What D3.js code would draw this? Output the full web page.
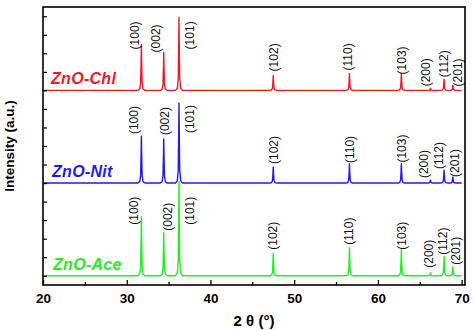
<!DOCTYPE html>
<html>
<head>
<meta charset="utf-8">
<script src="https://cdn.jsdelivr.net/npm/d3@7"></script>
<style>
  html, body { margin: 0; padding: 0; background: #fff; }
  svg { display: block; }
  text { font-family: Arial, "Liberation Sans", sans-serif; }
</style>
</head>
<body>
<svg id="chart" width="474" height="330"></svg>
<script>
// Reflection positions (2θ, degrees) and their Miller indices
const hkl = ["(100)", "(002)", "(101)", "(102)", "(110)", "(103)", "(200)", "(112)", "(201)"];
const twoTheta = [31.75, 34.42, 36.24, 47.5, 56.6, 62.8, 66.28, 67.9, 68.95];

// Samples, their vertical stacking offset (a.u.) and peak intensities above baseline (a.u.)
const samples = ["ZnO-Chl", "ZnO-Nit", "ZnO-Ace"];
const sampleOffset = [2000, 1000, 0];
const chlIntensity = [496, 410, 788, 162, 183, 183, 22, 119, 54];
const nitIntensity = [507, 475, 863, 173, 205, 210, 32, 140, 65];
const aceIntensity = [637, 464, 1014, 237, 302, 280, 32, 205, 97];
const intensities = [chlIntensity, nitIntensity, aceIntensity];

// Axis ticks
const xMajorTicks = [20, 30, 40, 50, 60, 70];
const xMinorTicks = [25, 35, 45, 55, 65];
const yTicks = d3.range(0, 2801, 200);
const scanRange = [20, 70];

// Styling
const colors = ["#ec1c24", "#1e1ee6", "#22ee22"];

// Profile used to draw one reflection: [Δ2θ, fraction of peak height]
const peakProfile = [[-0.42, 0], [-0.2, 0.03], [-0.09, 0.16], [-0.035, 0.6], [0, 1],
                     [0.035, 0.6], [0.09, 0.16], [0.2, 0.03], [0.42, 0]];

// Label placement relative to each peak apex, in pixels [dx, dy]
const labelShift = [
  [[-7, 5], [-8.5, 0], [11, 32], [0, -4], [-2, -3], [0, 1], [-4.5, -2], [0, -2], [4.5, 1]],
  [[-8, -2], [0.5, -4], [10.5, 30], [0, -3], [0, -1], [0, -1], [-6.5, -2], [-5, -1], [1.5, 0]],
  [[-7.5, 8], [3.5, -2], [10.5, 43], [-1, -4], [-1, -3], [0, 0], [-2, -5], [-1.5, -2], [3, -2]]
];
const sampleLabelPos = [[51, 84], [52, 177], [53, 270]];

const svg = d3.select("#chart");
const plot = { left: 43, right: 465, top: 7, bottom: 285 };

const x = d3.scaleLinear().domain([20, 70.4]).range([plot.left, plot.right]);
const y = d3.scaleLinear().domain([-100, 2900]).range([plot.bottom, plot.top]);

// Traces
const line = d3.line().x(d => x(d[0])).y(d => y(d[1]));
samples.forEach((name, s) => {
  const base = sampleOffset[s];
  const pts = [[scanRange[0], base]];
  twoTheta.forEach((c, i) => {
    peakProfile.forEach(([dx, f]) => pts.push([c + dx, base + f * intensities[s][i]]));
  });
  pts.push([scanRange[1], base]);
  pts.sort((a, b) => a[0] - b[0]);
  svg.append("path")
    .attr("d", line(pts))
    .attr("fill", "none")
    .attr("stroke", colors[s])
    .attr("stroke-width", 1.4)
    .attr("stroke-linejoin", "round");
});

// Peak labels
samples.forEach((name, s) => {
  const base = sampleOffset[s];
  twoTheta.forEach((c, i) => {
    const px = x(c) + labelShift[s][i][0];
    const py = y(base + intensities[s][i]) + labelShift[s][i][1];
    svg.append("text")
      .attr("transform", `translate(${px},${py}) rotate(-90)`)
      .attr("dy", "0.36em")
      .attr("font-size", 12)
      .attr("fill", "#111")
      .text(hkl[i]);
  });
});

// Sample names
samples.forEach((name, s) => {
  svg.append("text")
    .attr("x", sampleLabelPos[s][0])
    .attr("y", sampleLabelPos[s][1])
    .attr("font-size", 16)
    .attr("font-weight", "bold")
    .attr("font-style", "italic")
    .attr("letter-spacing", 0.3)
    .attr("fill", colors[s])
    .text(name);
});

// Bottom axis (ticks pointing inward)
const xAxis = svg.append("g")
  .attr("transform", `translate(0,${plot.bottom})`)
  .call(d3.axisBottom(x).tickValues(xMajorTicks).tickSizeInner(-5).tickSizeOuter(0).tickPadding(8));
xAxis.select(".domain").remove();
xAxis.selectAll("line").attr("stroke", "#000").attr("stroke-width", 1.3);
xAxis.selectAll("text").attr("font-size", 13.5).attr("font-weight", "bold")
  .attr("font-family", "Arial, 'Liberation Sans', sans-serif").attr("fill", "#000");

const xMinor = svg.append("g")
  .attr("transform", `translate(0,${plot.bottom})`)
  .call(d3.axisBottom(x).tickValues(xMinorTicks).tickSizeInner(-3).tickSizeOuter(0).tickFormat(""));
xMinor.select(".domain").remove();
xMinor.selectAll("line").attr("stroke", "#000").attr("stroke-width", 1.3);

// Left axis (ticks pointing inward, no labels)
const yAxis = svg.append("g")
  .attr("transform", `translate(${plot.left},0)`)
  .call(d3.axisLeft(y).tickValues(yTicks).tickSizeInner(-4).tickSizeOuter(0).tickFormat(""));
yAxis.select(".domain").remove();
yAxis.selectAll("line").attr("stroke", "#000").attr("stroke-width", 1.2);

// Frame
svg.append("rect")
  .attr("x", plot.left).attr("y", plot.top)
  .attr("width", plot.right - plot.left).attr("height", plot.bottom - plot.top)
  .attr("fill", "none").attr("stroke", "#000").attr("stroke-width", 1.6);

// Axis titles
svg.append("text")
  .attr("x", (plot.left + plot.right) / 2).attr("y", 326)
  .attr("text-anchor", "middle")
  .attr("font-size", 15).attr("font-weight", "bold")
  .text("2 θ (°)");

svg.append("text")
  .attr("transform", `translate(14,${(plot.top + plot.bottom) / 2}) rotate(-90)`)
  .attr("text-anchor", "middle")
  .attr("font-size", 13.5).attr("font-weight", "bold")
  .text("Intensity (a.u.)");
</script>
</body>
</html>
